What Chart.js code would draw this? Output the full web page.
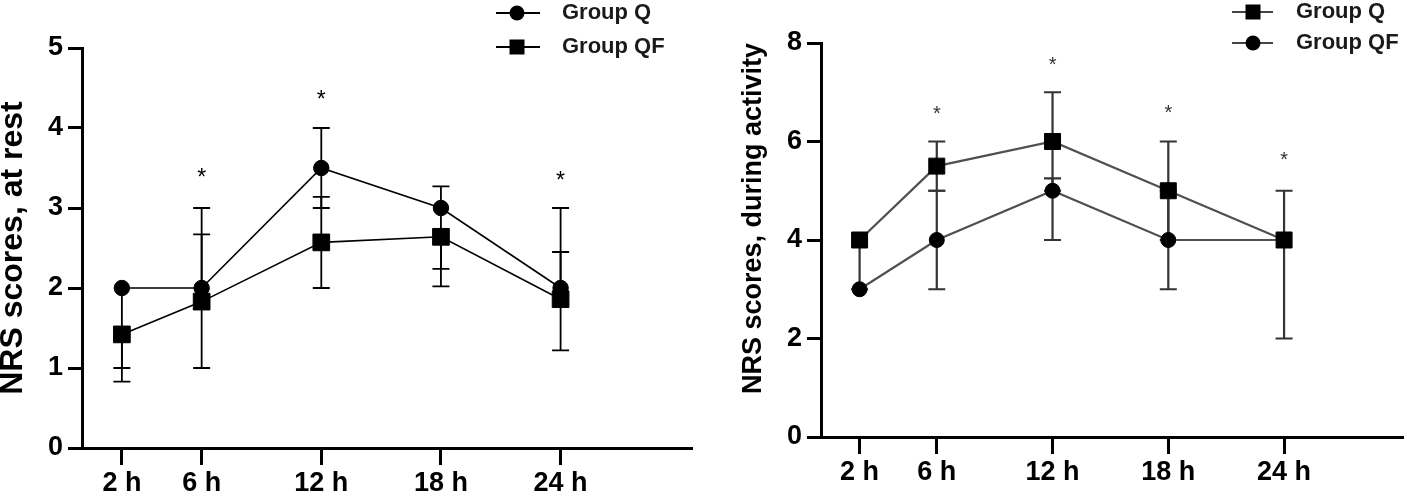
<!DOCTYPE html>
<html><head><meta charset="utf-8">
<script src="https://cdn.jsdelivr.net/npm/chart.js@4.4.1/dist/chart.umd.min.js"></script>
<style>
html,body{margin:0;padding:0;background:#fff;width:1416px;height:499px;overflow:hidden}
canvas{position:absolute;top:0}
#c1{left:0}
#c2{left:705px}
</style></head><body>
<canvas id="c1" width="705" height="499"></canvas>
<canvas id="c2" width="711" height="499"></canvas>
<script>
// ---------- data ----------
const hours = [2, 6, 12, 18, 24];
const hourLabels = ['2 h', '6 h', '12 h', '18 h', '24 h'];
const seriesNames = ['Group Q', 'Group QF'];

// Panel 1: NRS at rest
const restQ      = [2.0, 2.0, 3.5, 3.0, 2.0];
const restQHigh  = [null, 3.0, 4.0, 3.27, 3.0];
const restQLow   = [1.0, null, 3.0, 2.02, null];
const restQF     = [1.42, 1.83, 2.57, 2.64, 1.86];
const restQFHigh = [null, 2.67, 3.14, null, 2.45];
const restQFLow  = [0.83, 1.0, 2.0, 2.24, 1.22];
const restSig    = [null, 3.45, 4.43, null, 3.42];

// Panel 2: NRS during activity
const actQ      = [4, 5.5, 6, 5, 4];
const actQHigh  = [null, 6, 7, 6, 5];
const actQLow   = [3, 5, 5, 4, null];
const actQF     = [3, 4, 5, 4, 4];
const actQFHigh = [null, 5, 5.25, 5, null];
const actQFLow  = [null, 3, 4, 3, 2];
const actSig    = [null, 6.67, 7.67, 6.69, 5.73];

// ---------- helpers ----------
const FONT = '"Liberation Sans", Arial, Helvetica, sans-serif';
const pts = (vals) => vals.map((v, i) => ({x: hours[i], y: v}));

function legendIcon(style, lineColor, w, lineLen, center, size) {
  const c = document.createElement('canvas');
  c.width = w; c.height = 22;
  const g = c.getContext('2d');
  g.strokeStyle = lineColor; g.lineWidth = 2;
  g.beginPath(); g.moveTo(0, 11); g.lineTo(lineLen, 11); g.stroke();
  g.fillStyle = '#000';
  if (style === 'circle') { g.beginPath(); g.arc(center, 11, size / 2, 0, Math.PI * 2); g.fill(); }
  else { g.fillRect(center - size / 2, 11 - size / 2, size, size); }
  return c;
}

function generateLabels(chart) {
  const items = Chart.defaults.plugins.legend.labels.generateLabels(chart);
  items.forEach(it => { it.pointStyle = chart.data.datasets[it.datasetIndex].legendIcon; it.fontColor = '#1a1a1a'; });
  return items;
}

const errorBars = {
  id: 'errorBars',
  beforeDatasetsDraw(chart) {
    const {ctx} = chart; const x = chart.scales.x, y = chart.scales.y;
    ctx.save();
    chart.data.datasets.forEach(ds => {
      ctx.strokeStyle = ds.errColor; ctx.lineWidth = ds.errWidth;
      ds.data.forEach((p, i) => {
        const px = x.getPixelForValue(p.x), py = y.getPixelForValue(p.y);
        [ds.errHigh[i], ds.errLow[i]].forEach(v => {
          if (v == null) return;
          const ey = y.getPixelForValue(v);
          ctx.beginPath();
          ctx.moveTo(px, py); ctx.lineTo(px, ey);
          ctx.moveTo(px - ds.errCap, ey); ctx.lineTo(px + ds.errCap, ey);
          ctx.stroke();
        });
      });
    });
    ctx.restore();
  }
};

function sigStars(levels, size, color) {
  return {
    id: 'sigStars',
    afterDatasetsDraw(chart) {
      const {ctx} = chart; const x = chart.scales.x, y = chart.scales.y;
      ctx.save();
      ctx.font = size + 'px ' + FONT; ctx.fillStyle = color;
      ctx.textAlign = 'center'; ctx.textBaseline = 'alphabetic';
      levels.forEach((v, i) => {
        if (v == null) return;
        ctx.fillText('*', x.getPixelForValue(hours[i]), y.getPixelForValue(v) + size * 0.57);
      });
      ctx.restore();
    }
  };
}

function legendPlacer(itemX, rowY, wrapW, pad, fs) {
  return {
    id: 'legendPlacer',
    beforeLayout(chart) {
      const lg = chart.legend;
      if (!lg || lg._placed) return;
      const fit = lg.fit;
      lg.fit = function () {
        this.maxWidth = wrapW;
        fit.call(this);
        this._h = this.height;
        this.height = 0;
      };
      lg._placed = true;
    },
    afterLayout(chart) {
      const lg = chart.legend;
      lg.left = itemX - pad; lg.right = lg.left + wrapW; lg.width = wrapW;
      lg.top = rowY - pad - fs / 2; lg.height = lg._h; lg.bottom = lg.top + lg._h;
    }
  };
}

function axisCommon(tickLen) {
  return {
    grid: { drawOnChartArea: false, drawTicks: true, tickLength: tickLen, tickWidth: 3, tickColor: '#000', color: '#000' },
    border: { display: true, color: '#000', width: 3 }
  };
}
const tickFont = { family: FONT, size: 27, weight: 'bold' };
const LEG_FS = 22;

function makeChart(el, cfg) {
  return new Chart(document.getElementById(el), {
    type: 'line',
    data: { datasets: cfg.datasets },
    options: {
      responsive: false, animation: false, devicePixelRatio: 1,
      layout: { padding: cfg.padding },
      elements: { line: { tension: 0 } },
      scales: {
        x: Object.assign({
          type: 'linear', min: 0, max: cfg.xMax,
          afterBuildTicks(s) { s.ticks = hours.map(v => ({value: v})); },
          afterFit(s) { s.height = cfg.xHeight; },
          ticks: { autoSkip: false, maxRotation: 0, color: '#000', font: tickFont, padding: 2,
                   callback: (v, i) => hourLabels[i] }
        }, axisCommon(17)),
        y: Object.assign({
          type: 'linear', min: 0, max: cfg.yMax,
          afterFit(s) { s.width = cfg.yWidth; },
          ticks: { stepSize: cfg.yStep, color: '#000', font: tickFont, padding: 5 },
          title: cfg.title
        }, axisCommon(14))
      },
      plugins: {
        tooltip: { enabled: false },
        legend: {
          display: true, position: 'top', align: 'start',
          labels: { usePointStyle: true, pointStyleWidth: cfg.iconW, padding: cfg.legPad, color: '#1a1a1a',
                    font: { family: FONT, size: LEG_FS, weight: 'bold' }, generateLabels }
        }
      }
    },
    plugins: [errorBars, sigStars(cfg.sig, cfg.starSize, cfg.starColor),
              legendPlacer(cfg.legX, cfg.legY, 260, cfg.legPad, LEG_FS)]
  });
}

// ---------- panel 1 ----------
makeChart('c1', {
  padding: { top: 48, right: 6, left: 0, bottom: 0 },
  xMax: 30.6, xHeight: 51, yMax: 5, yStep: 1, yWidth: 82,
  iconW: 55, legPad: 12, legX: 496, legY: 13,
  sig: restSig, starSize: 23, starColor: '#000',
  title: { display: true, text: 'NRS scores, at rest', color: '#000', padding: 0,
           font: { family: FONT, size: 32, weight: 'bold', lineHeight: 0.8 } },
  datasets: [
    { label: seriesNames[0], data: pts(restQ), borderColor: '#000', borderWidth: 1.6,
      pointStyle: 'circle', pointRadius: 7.7, pointBackgroundColor: '#000', pointBorderColor: '#000', pointBorderWidth: 1,
      errHigh: restQHigh, errLow: restQLow, errColor: '#000', errWidth: 1.8, errCap: 8.5,
      legendIcon: legendIcon('circle', '#000', 55, 44, 21, 15) },
    { label: seriesNames[1], data: pts(restQF), borderColor: '#000', borderWidth: 1.6,
      pointStyle: 'rect', pointRadius: 11.8, pointBackgroundColor: '#000', pointBorderColor: '#000', pointBorderWidth: 1,
      errHigh: restQFHigh, errLow: restQFLow, errColor: '#000', errWidth: 1.8, errCap: 8.5,
      legendIcon: legendIcon('rect', '#000', 55, 44, 21, 15) }
  ]
});

// ---------- panel 2 ----------
makeChart('c2', {
  padding: { top: 43, right: 0, left: 0, bottom: 0 },
  xMax: 30.2, xHeight: 62, yMax: 8, yStep: 2, yWidth: 116,
  iconW: 53, legPad: 9, legX: 527, legY: 12,
  sig: actSig, starSize: 20, starColor: '#333',
  title: { display: true, text: 'NRS scores, during activity', color: '#000', align: 'end',
           padding: { top: 35.5, bottom: 0 },
           font: { family: FONT, size: 27, weight: 'bold', lineHeight: 1 } },
  datasets: [
    { label: seriesNames[0], data: pts(actQ), borderColor: '#505050', borderWidth: 2.2,
      pointStyle: 'rect', pointRadius: 11.3, pointBackgroundColor: '#000', pointBorderColor: '#000', pointBorderWidth: 1,
      errHigh: actQHigh, errLow: actQLow, errColor: '#333', errWidth: 2.2, errCap: 8.5,
      legendIcon: legendIcon('rect', '#444', 53, 41, 21, 15) },
    { label: seriesNames[1], data: pts(actQF), borderColor: '#505050', borderWidth: 2.2,
      pointStyle: 'circle', pointRadius: 7.5, pointBackgroundColor: '#000', pointBorderColor: '#000', pointBorderWidth: 1,
      errHigh: actQFHigh, errLow: actQFLow, errColor: '#333', errWidth: 2.2, errCap: 8.5,
      legendIcon: legendIcon('circle', '#444', 53, 41, 21, 15) }
  ]
});
</script>
</body></html>
